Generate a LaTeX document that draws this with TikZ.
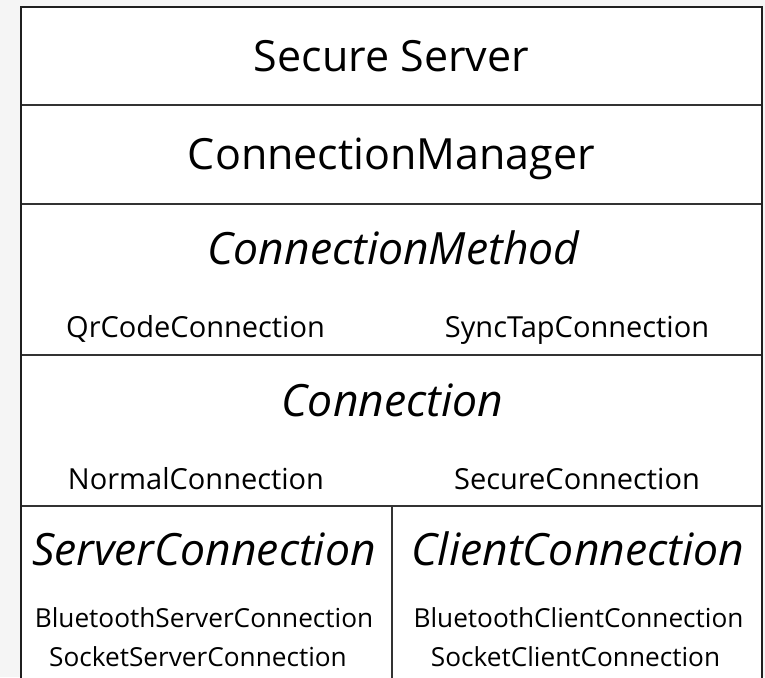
\documentclass[tikz,border=0pt]{standalone}
\usepackage{fontspec}
\setmainfont{Open Sans}
\begin{document}
\begin{tikzpicture}[x=1pt,y=-1pt,
  title/.style={inner sep=0pt,anchor=base,font=\fontsize{43}{47}\selectfont},
  abstract/.style={inner sep=0pt,anchor=base,font=\fontsize{44.5}{48}\selectfont\itshape},
  member/.style={inner sep=0pt,anchor=base,font=\fontsize{29}{32}\selectfont},
  leaf/.style={inner sep=0pt,anchor=base,font=\fontsize{26.2}{29}\selectfont},
  frame/.style={draw=black!88,line width=2.4pt},
  divider/.style={draw=black!80,line width=2pt}]
  % canvas and page area
  \fill[black!4] (0,0) rectangle (765,677);
  \useasboundingbox (0,0) rectangle (765,677);
  \clip (0,0) rectangle (765,677);
  \fill[white] (21,7) rectangle (762,690);

  % layer separators
  \coordinate (l1w) at (21,105);  \coordinate (l1e) at (762,105);
  \coordinate (l2w) at (21,204);  \coordinate (l2e) at (762,204);
  \coordinate (l3w) at (21,355);  \coordinate (l3e) at (762,355);
  \coordinate (l4w) at (21,506);  \coordinate (l4e) at (762,506);
  \coordinate (split) at (392,506); \coordinate (splitend) at (392,690);
  \draw[divider] (l1w) -- (l1e);
  \draw[divider] (l2w) -- (l2e);
  \draw[divider] (l3w) -- (l3e);
  \draw[divider] (l4w) -- (l4e);
  \draw[divider] (split) -- (splitend);
  \draw[frame] (21,690) -- (21,7) -- (762,7) -- (762,690);

  % layer labels
  \node[title] (server) at (391.5,71) {Secure Server};
  \node[title] (manager) at (391.5,169) {ConnectionManager};
  \node[abstract] (method) at (393.5,264) {ConnectionMethod};
  \node[member] (qrcode) at (195.5,337) {QrCodeConnection};
  \node[member] (synctap) at (577,337) {SyncTapConnection};
  \node[abstract] (connection) at (392.5,416) {Connection};
  \node[member] (normal) at (196,489) {NormalConnection};
  \node[member] (secure) at (577,489) {SecureConnection};
  \node[abstract] (serverconn) at (204,565) {ServerConnection};
  \node[abstract] (clientconn) at (578,565) {ClientConnection};
  \node[leaf] (btserver) at (204,627) {BluetoothServerConnection};
  \node[leaf] (sockserver) at (198,666) {SocketServerConnection};
  \node[leaf] (btclient) at (578.5,627) {BluetoothClientConnection};
  \node[leaf] (sockclient) at (575.5,666) {SocketClientConnection};
\end{tikzpicture}
\end{document}
